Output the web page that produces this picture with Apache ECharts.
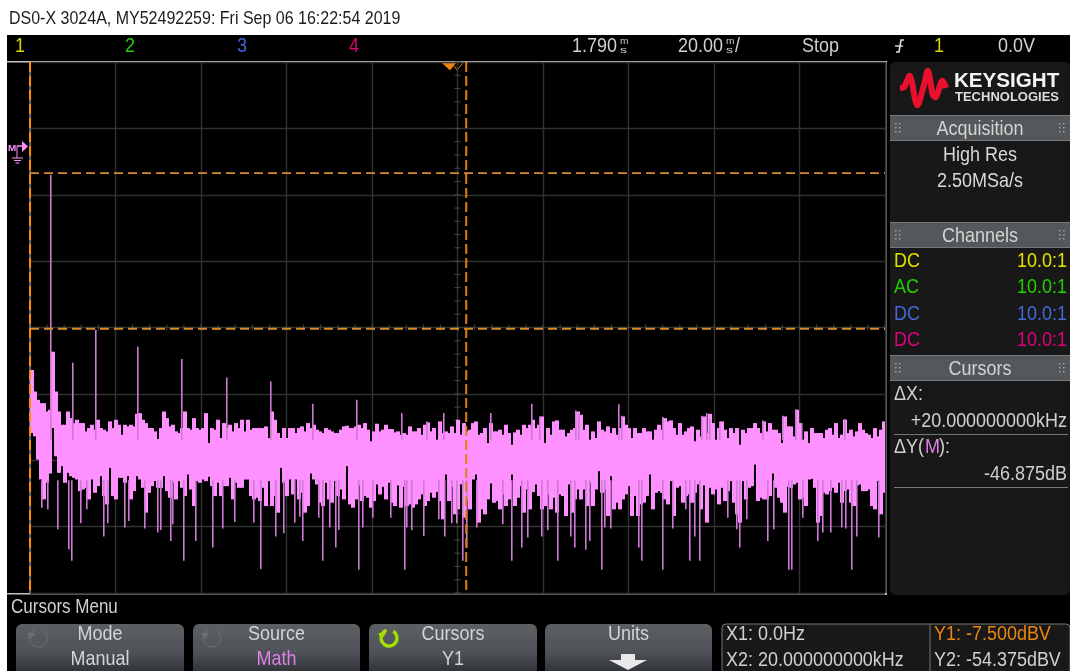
<!DOCTYPE html>
<html><head><meta charset="utf-8">
<style>html,body{margin:0;padding:0;background:#fff;overflow:hidden}#c{width:1070px;height:671px}</style>
<script src="https://cdn.jsdelivr.net/npm/echarts@6/dist/echarts.min.js"></script>
</head><body><div id="c"></div>
<script>
const freqMax = 39.2, freqDiv = 3.92;
const dbMin = -134, dbMax = 26, dbDiv = 20;
const cursorX = [0, 20];
const cursorY = [-7.5, -54.375];
const columnStepKHz = 0.13755;

// Upper edge of the noise band, one reading per column
const bandTop = [
-66.8,-73.3,-75.8,-76.8,-76.8,-79.3,-78.8,-61.3,-73.3,-79.3,-83.3,-83.3,-79.3,-81.3,-82.8,-81.8,-82.8,-82.8,-85.3,-84.3,
-83.3,-84.8,-81.8,-84.3,-84.8,-85.3,-82.3,-84.3,-81.8,-83.3,-86.3,-83.3,-83.8,-83.3,-83.8,-80,-79.8,-81.8,-82.8,-84.3,
-84.3,-85.3,-87.6,-84.3,-79.3,-81.3,-83.8,-83.3,-85.3,-85.8,-84.3,-79.3,-84.3,-84.8,-81.3,-84.3,-84.8,-84.3,-79.8,-88.8,
-84.3,-84.8,-81.8,-87.3,-82.8,-84.3,-83.3,-85.3,-82.8,-84.3,-81.8,-85.3,-81.8,-84.8,-84.3,-84.3,-84.3,-84.3,-83.8,-87.3,
-79.3,-81.8,-85.8,-87.3,-84.3,-87.3,-84.3,
-84.3,-85.8,-84.3,-83.8,-85.3,-82.8,-84.3,-83.3,-84.8,-85.3,
-85.8,-84.3,-84.8,-85.3,-85.8,-85.8,-84.8,-83.8,-83.6,-84.3,
-84.3,-83.8,-83.3,-84.3,-82.8,-84.8,-88.3,-85.3,-83,-85.3,
-84.8,-83.3,-84.6,-84.6,-85.6,-85.3,-86.3,-85.8,-86.3,-83.8,
-85.3,-85.3,-84.3,-86.3,-83.3,-82.6,-85.3,-84.3,-87.8,-82.3,
-85.8,-85.3,-85.8,-83.8,-85.8,-81.8,-86.3,-82.8,-85.3,-84.8,
-82.8,-82.3,-86.3,-85.8,-84.3,-88.8,-82.8,-85.3,-85.3,-84.8,
-86.3,-83.3,-85.8,-89.3,-85.6,-84.8,-86.3,-83.3,-84.3,-83.3,
-81.8,-84.3,-83.3,-80.8,-88.8,-84.3,-86.3,-82.3,-82,-84.8,
-84.8,-86.8,-85.8,-84.8,-84.3,-79.3,-80.3,-84.8,-83.3,-87.8,
-85.3,-87.3,-82.3,-84.8,-85.3,-83.8,-85.8,-84.3,-86.3,-84.3,
-80.8,-83.3,-84.3,-87.3,-84.3,-85.8,-85.8,-84.3,-85.3,-85.3,
-87.8,-84.8,-83.3,-84.8,-81.3,-82.3,-82,-84.3,-86.3,-82.8,
-86.3,-85.3,-84.3,-83.8,-88.3,-84.8,-86.8,-80.8,-85.8,-80,
-82.8,-87.8,-84.3,-82.3,-84.8,-87.3,-84.3,-85.8,-84.3,-89.3,
-84.8,-85.8,-84.3,-84.3,-82.8,-84.3,-85.8,-82.3,-85.3,-82.8,
-84.8,-84.8,-85.8,-88.8,-80.8,-83.8,-83.8,-86.8,-78.8,-82.8,
-87.8,-85.3,-88.8,-84.3,-85.8,-85.8,-85.8,-87.3,-84.8,-84.3,
-86.3,-82.8,-87.3,-86.3,-81.8,-85.8,-84.8,-86.8,-85.3,-82.8,
-84.8,-85.8,-86.3,-87.3,-84.3,-86.8,-84.8,-82.3];

// Lower edge of the noise band, one reading per column
const bandBottom = [
-85.8,-86.8,-93.8,-99.8,-105.8,-100.8,-98,-84.3,-92.8,-97.8,-95.8,-100.8,-97.8,-98.8,-99.3,-99.8,-103.3,-102.8,-102.3,-105.8,
-99.8,-103.8,-101.8,-98.8,-104.8,-107.3,-96.3,-104.8,-105.8,-99.3,-99.3,-100.8,-98.8,-105.8,-103.3,-98.8,-99.8,-102.3,-109.8,-103.8,
-101.8,-100.3,-102.3,-102.3,-98.8,-103.3,-105.3,-100.8,-105.8,-100.3,-102.3,-104.8,-98.3,-102.8,-107.8,-100.3,-100.8,-99.8,-100.3,-99,
-101.8,-104.8,-100.8,-104.8,-101.8,-101.8,-99.3,-105.8,-100.8,-102.3,-102.3,-99.8,-99.8,-104.8,-105.8,-105.3,-106.3,-102.3,-107.8,-100.3,
-107.8,-104.8,-109.8,-96.3,-100.8,-104.8,-99.8,
-104.3,-99.8,-105.8,-103.8,-109.8,-107.8,-98,-99.8,-101.3,-106.8,
-107.8,-100.8,-105.8,-106.8,-100.3,-104.8,-102.8,-105.8,-95.8,-107.3,
-108.3,-105.8,-101.6,-106.3,-104.8,-105.3,-108.3,-106.3,-101.3,-104.3,
-102,-105.8,-100.8,-106.8,-107.8,-101.6,-108.3,-102,-107.8,-107.3,
-108.3,-107.3,-105.8,-104.3,-107.8,-106.3,-103.8,-105.3,-103.6,-106.3,
-111.8,-98.3,-106.3,-102,-110.3,-108.8,-101.3,-111.3,-105.8,-108.8,
-99.8,-98.3,-112.8,-108.8,-110.3,-105.8,-101,-106.8,-106.3,-108.8,
-104.3,-107.8,-105.8,-98.3,-107.8,-105.3,-101.8,-109.8,-102.8,-108.8,
-103.6,-101.3,-104.8,-108.8,-107.8,-104.3,-108.8,-105.3,-109.8,-104.3,
-104.8,-110.8,-101.3,-109.8,-105.8,-102.8,-105.8,-102.8,-107.8,-100.8,
-107.8,-102.8,-97.3,-103.8,-102.8,-110.8,-98.8,-108.8,-106.8,-108.8,
-105.8,-104.3,-101.8,-110.8,-104.8,-110.8,-107.3,-106.8,-104.8,-98.3,
-108.8,-103.8,-103.3,-103.8,-105.8,-107.3,-100.3,-110.8,-102.3,-101.8,
-106.8,-104.8,-104.3,-106.8,-103.8,-101.3,-108.8,-101.6,-112.8,-102.3,
-104.3,-102.8,-107.3,-102.3,-106.3,-103.3,-100.3,-106.8,-110.3,-112.8,
-100.3,-105.8,-102.3,-101.8,-95.3,-106.3,-105.3,-105.8,-105.8,-104.8,
-98,-102.3,-105.3,-106.8,-109.8,-102,-102.3,-101.3,-100.8,-105.8,
-105.3,-107.8,-99.8,-99.6,-102.3,-112.8,-110.8,-103.8,-104.3,-103.3,
-102.3,-103.8,-100.8,-106.8,-103.3,-102.8,-106.8,-107.8,-101.6,-101.3,
-103.3,-103.3,-102.8,-107.8,-108.8,-100.3,-110.3,-103.8];

// Spectral peaks above the band: kHz, dBV
const peakFreq = [0.96,1.96,3.01,4.97,6.98,9.02,11.04,12.99,15.0,17.04,18.19,18.98,21.14,23.02,23.38,25.03,25.16,27.0,27.13,29.04,30.8,31.04,31.18,31.64,33.59,34.54,35.13,35.38,37.35];
const peakDb = [-8,-64.6,-54.7,-59.8,-63.5,-69.1,-70.3,-77,-75.8,-79.8,-82.3,-79.8,-79.8,-77,-80.8,-79,-80,-77.1,-80.6,-81,-80.6,-79.8,-81.6,-82.3,-82,-80.6,-78.6,-82.8,-81.6];

// Dips below the band: kHz, dBV
const dipFreq = [0.56,0.81,1.30,1.80,1.91,2.34,2.63,3.39,3.56,4.36,4.55,5.27,5.88,6.01,6.46,6.57,7.05,7.61,8.40,8.84,9.39,10.27,10.59,11.28,11.65,
12.16,12.38,12.52,13.26,13.42,13.76,14.03,14.15,15.08,15.25,15.74,16.54,17.21,17.3,17.5,18.06,18.75,
19.04,19.33,19.56,19.84,20.05,20.51,21.7,22.11,22.57,22.85,23.46,23.76,24.2,24.8,24.99,25.48,
25.69,26.23,26.35,26.64,27.92,28.05,29.02,29.47,30.08,30.26,30.49,30.73,32.02,32.4,32.54,
32.86,33.85,34.13,34.8,34.95,35.46,36.13,36.37,36.73,37.22,37.41,37.67,37.9,38.94];
const dipDb = [-108.3,-108.8,-114.8,-120.8,-124.3,-113,-108.8,-117,-113,-114.3,-112.3,-114.6,-115.8,-115,-118.3,-113.3,-124.3,-118.3,-120.3,-114.6,-112.6,-112.8,-126.8,-117,-116,
-112.8,-111,-118.3,-111.3,-124.3,-114.3,-120.3,-115,-127,-114.3,-111.3,-111.3,-127,-114.3,-115,-116.8,-111.8,
-117,-113,-113,-124.3,-120.3,-114.3,-113.3,-124.3,-120.3,-117.3,-117,-115,-124.3,-117,-120.3,-121,
-118.3,-127,-114.3,-114.6,-120.3,-124.3,-127,-114.6,-108.8,-124.3,-117,-124.3,-111.3,-114.8,-120.3,
-111.8,-118.3,-114.8,-127,-127,-111.3,-118.3,-115.8,-115.8,-114.3,-114.6,-127,-117,-117.3];

const chartTitle = 'DS0-X 3024A, MY52492259: Fri Sep 06 16:22:54 2019';

const GREY='#c4c4c4', ORANGE='#e8860f', PINK='#ff90ff', SPIKE='#cf78d6';
const SANS="'Liberation Sans',sans-serif";
const g=[];
function rect(x,y,w,h,fill,r,stroke){g.push({type:'rect',silent:true,shape:{x,y,width:w,height:h,r:r||0},style:{fill,stroke:stroke||null,lineWidth:stroke?1:0}});}
// y+1: glyphs sit a little lower on the instrument; narrow face faked with a horizontal scale
function txt(x,y,s,fill,size,align,sx,weight){g.push({type:'text',silent:true,x,y:y+1,scaleX:sx||0.86,style:{text:s,fill,font:(weight||'normal')+' '+(size*1.1)+'px '+SANS,textAlign:align||'left',textVerticalAlign:'middle'}});}
function line(x1,y1,x2,y2,stroke,w){g.push({type:'line',silent:true,shape:{x1,y1,x2,y2},style:{stroke,lineWidth:w||1}});}
function grip(x,y){[0,1,2].forEach(i=>[0,1].forEach(j=>rect(x+j*4,y+i*4,1.6,1.6,'#9a9ea0')));}

g.push({type:'text',silent:true,x:9,y:19,scaleX:0.842,style:{text:chartTitle,fill:'#1c1c1c',font:'normal 19px '+SANS,textAlign:'left',textVerticalAlign:'middle'}});
// black instrument surround
rect(7,35,1063,636,'#000');
rect(7,61,880,1.5,GREY);rect(7,593,880,1.5,GREY);rect(885,61,1.5,534,GREY);
// header
txt(15,45,'1','#d8d800',19);txt(125,45,'2','#22d000',19);txt(237,45,'3','#3f63d8',19);txt(349,45,'4','#e0007c',19);
txt(572,45,'1.790','#d0d0d0',19);txt(620,41,'m','#d0d0d0',8,'left',1.15);txt(620,50,'s','#d0d0d0',8,'left',1.6);
txt(678,45,'20.00','#d0d0d0',19);txt(726,41,'m','#d0d0d0',8,'left',1.15);txt(726,50,'s','#d0d0d0',8,'left',1.6);txt(735,45,'/','#d0d0d0',19);
txt(802,45,'Stop','#d0d0d0',19);
g.push({type:'polyline',silent:true,shape:{points:[[896,52],[899,52],[901,40],[904,40]]},style:{stroke:'#e0e0e0',fill:null,lineWidth:1.6}});
line(895,46,903,46,'#e0e0e0',1.4);
txt(934,45,'1','#d8d800',19);txt(998,45,'0.0V','#d0d0d0',19);
// right panel
rect(890,62,180,533,'#181818',5);
g.push({type:'polyline',silent:true,shape:{points:[[900,88],[904,87],[910,76],[917,105],[924,85],[928,71],[933,95],[936,97],[942,81],[946,88]],smooth:0.35},style:{stroke:'#e8102e',fill:null,lineWidth:6,lineJoin:'round'}});
g.push({type:'text',silent:true,x:954,y:81,scaleX:0.98,style:{text:'KEYSIGHT',fill:'#f4f4f4',font:'bold 21px '+SANS,textAlign:'left',textVerticalAlign:'middle'}});
g.push({type:'text',silent:true,x:955,y:98,scaleX:1.04,style:{text:'TECHNOLOGIES',fill:'#dcdcdc',font:'bold 12.5px '+SANS,textAlign:'left',textVerticalAlign:'middle'}});
function bar(y,h,label){rect(890,y,180,h,'#54585a');rect(890,y,180,1,'#75787a');rect(890,y+h-1,180,1,'#75787a');txt(980,y+h/2,label,'#d4d4d4',19,'center');grip(895,y+8);grip(1059,y+8);}
bar(115,26,'Acquisition');
txt(980,154,'High Res','#d8d8d8',19,'center');txt(980,180,'2.50MSa/s','#d8d8d8',19,'center');
bar(222,26,'Channels');
[['DC','#e0e000',260],['AC','#22d000',286],['DC','#4468d8',313],['DC','#e0007c',339]].forEach(r=>{txt(894,r[2],r[0],r[1],19);txt(1067,r[2],'10.0:1',r[1],19,'right');});
bar(355,26,'Cursors');
txt(894,393,'\u0394X:','#d0d0d0',19);txt(1067,420,'+20.000000000kHz','#d0d0d0',19,'right');
line(894,434.5,1068,434.5,'#777',1);
txt(894,446,'\u0394Y(','#d0d0d0',19);txt(925,446,'M','#e080e8',19);txt(939,446,'):','#d0d0d0',19);
txt(1067,473,'-46.875dB','#d0d0d0',19,'right');
line(894,487.5,1068,487.5,'#777',1);
// math marker
txt(8,147,'M',PINK,9,'left',1,'bold');
line(17,146,17,158,PINK,1);line(17,146,25,146,PINK,1.5);
g.push({type:'polygon',silent:true,shape:{points:[[22,141],[28,146.5],[22,152]]},style:{fill:PINK}});
line(12,158,23,158,PINK,1);line(14,160.5,21,160.5,PINK,1);line(15.5,163,19.5,163,PINK,1);
// trigger markers
g.push({type:'polygon',silent:true,shape:{points:[[442,63],[456,63],[450,70.5]]},style:{fill:ORANGE}});
g.push({type:'polyline',silent:true,shape:{points:[[454,66],[457,70],[463,63]]},style:{stroke:ORANGE,fill:null,lineWidth:1}});
// soft keys
txt(11,607,'Cursors Menu','#d0d0d0',18);
function key(x,w,a,b,bc){g.push({type:'rect',silent:true,shape:{x,y:624,width:w,height:50,r:[6,6,0,0]},style:{fill:{type:'linear',x:0,y:0,x2:0,y2:1,colorStops:[{offset:0,color:'#5c6062'},{offset:.55,color:'#50545a'},{offset:1,color:'#2c3034'}]}}});
txt(x+w/2,633,a,'#d4d4d4',19,'center');if(b)txt(x+w/2,658,b,bc||'#d4d4d4',19,'center');}
key(16,168,'Mode','Manual');key(193,167,'Source','Math','#e080e8');key(369,168,'Cursors','Y1');key(545,167,'Units',null);
function knob(x,c,w){g.push({type:'arc',silent:true,shape:{cx:x,cy:638,r:w>2?8:9,startAngle:-1.0,endAngle:4.4},style:{stroke:c,fill:null,lineWidth:w}});
g.push({type:'polygon',silent:true,shape:{points:[[x-11,633],[x-3,633],[x-7,639]]},style:{fill:c}});}
knob(38,'#6c7072',1);knob(212,'#6c7072',1);knob(389,'#a4e000',3.4);
g.push({type:'polygon',silent:true,shape:{points:[[621,654],[635,654],[635,660],[647,660],[628,670],[609,660],[621,660]]},style:{fill:'#e8e8e8'}});
// cursor read-out
g.push({type:'rect',silent:true,shape:{x:722,y:624,width:348,height:50,r:[4,4,0,0]},style:{fill:'#181818',stroke:'#777',lineWidth:1}});
line(930,624,930,671,'#777',1);
txt(726,633,'X1: 0.0Hz','#d0d0d0',19);txt(726,659,'X2: 20.000000000kHz','#d0d0d0',19);
txt(934,633,'Y1: -7.500dBV','#e8860f',19);txt(934,659,'Y2: -54.375dBV','#d0d0d0',19);

const columns = bandTop.map((t,i)=>[(i+0.5)*columnStepKHz,t,bandBottom[i]]);
const spikes = peakFreq.map((f,i)=>[f,peakDb[i],-88]).concat(dipFreq.map((f,i)=>[f,-100,dipDb[i]]));

// centre-line graticule ticks, fifths of a division
const yTickValues=[],xTickValues=[];
for(let i=0;i<=40;i++)yTickValues.push(dbMin+i*dbDiv/5);
for(let i=0;i<=50;i++)xTickValues.push(i*freqDiv/5);
const dbMid=(dbMin+dbMax)/2, fMid=freqMax/2;

const chart=echarts.init(document.getElementById('c'),null,{renderer:'canvas',width:1070,height:671});
const vline=(x,w,c)=>({type:'line',z:6,silent:true,symbol:'none',data:[[x,dbMax],[x,dbMin]],lineStyle:{color:c,width:w,type:[10,4]}});
const hline=(y)=>({type:'line',z:5,silent:true,symbol:'none',data:[[0,y],[freqMax,y]],lineStyle:{color:'#d88a2c',width:1.8,type:[9,5]}});
chart.setOption({
 animation:false,backgroundColor:'#fff',
 graphic:{elements:g},
 grid:{left:30,top:62,width:855,height:531,containLabel:false,z:3},
 xAxis:{type:'value',min:0,max:freqMax,interval:freqDiv,axisLine:{show:false},axisTick:{show:false},axisLabel:{show:false},splitLine:{show:true,lineStyle:{color:'#323232',width:1.4}}},
 yAxis:{type:'value',min:dbMin,max:dbMax,interval:dbDiv,axisLine:{show:false},axisTick:{show:false},axisLabel:{show:false},splitLine:{show:true,lineStyle:{color:'#323232',width:1.4}}},
 series:[
 {type:'custom',z:2,silent:true,data:yTickValues.map(v=>[fMid,v]),renderItem:(p,api)=>{const c=api.coord([api.value(0),api.value(1)]);return {type:'line',shape:{x1:c[0]-3,y1:c[1],x2:c[0]+3,y2:c[1]},style:{stroke:'#484848',lineWidth:1}};}},
 {type:'custom',z:2,silent:true,data:xTickValues.map(v=>[v,dbMid]),renderItem:(p,api)=>{const c=api.coord([api.value(0),api.value(1)]);return {type:'line',shape:{x1:c[0],y1:c[1]-3,x2:c[0],y2:c[1]+3},style:{stroke:'#484848',lineWidth:1}};}},
 {type:'custom',z:3,silent:true,clip:true,data:columns,encode:{x:0,y:[1,2]},renderItem:(p,api)=>{const a=api.coord([api.value(0),api.value(1)]),b=api.coord([api.value(0),api.value(2)]);return {type:'rect',shape:{x:Math.round(a[0]-2),y:a[1],width:4,height:b[1]-a[1]},style:{fill:PINK}};}},
 {type:'custom',z:4,silent:true,data:spikes,encode:{x:0,y:[1,2]},renderItem:(p,api)=>{const a=api.coord([api.value(0),api.value(1)]),b=api.coord([api.value(0),api.value(2)]);return {type:'rect',shape:{x:Math.round(a[0])-1,y:a[1],width:1.6,height:b[1]-a[1]},style:{fill:SPIKE}};}},
 hline(cursorY[0]),hline(cursorY[1]),
 {type:'line',z:5,silent:true,symbol:'none',data:[[cursorX[0],dbMax],[cursorX[0],dbMin]],lineStyle:{color:'#b8a8b8',width:1}},
 vline(cursorX[0],2,'#ff8c00'),vline(cursorX[1],2,'#e07f10')
 ]
});
</script></body></html>
